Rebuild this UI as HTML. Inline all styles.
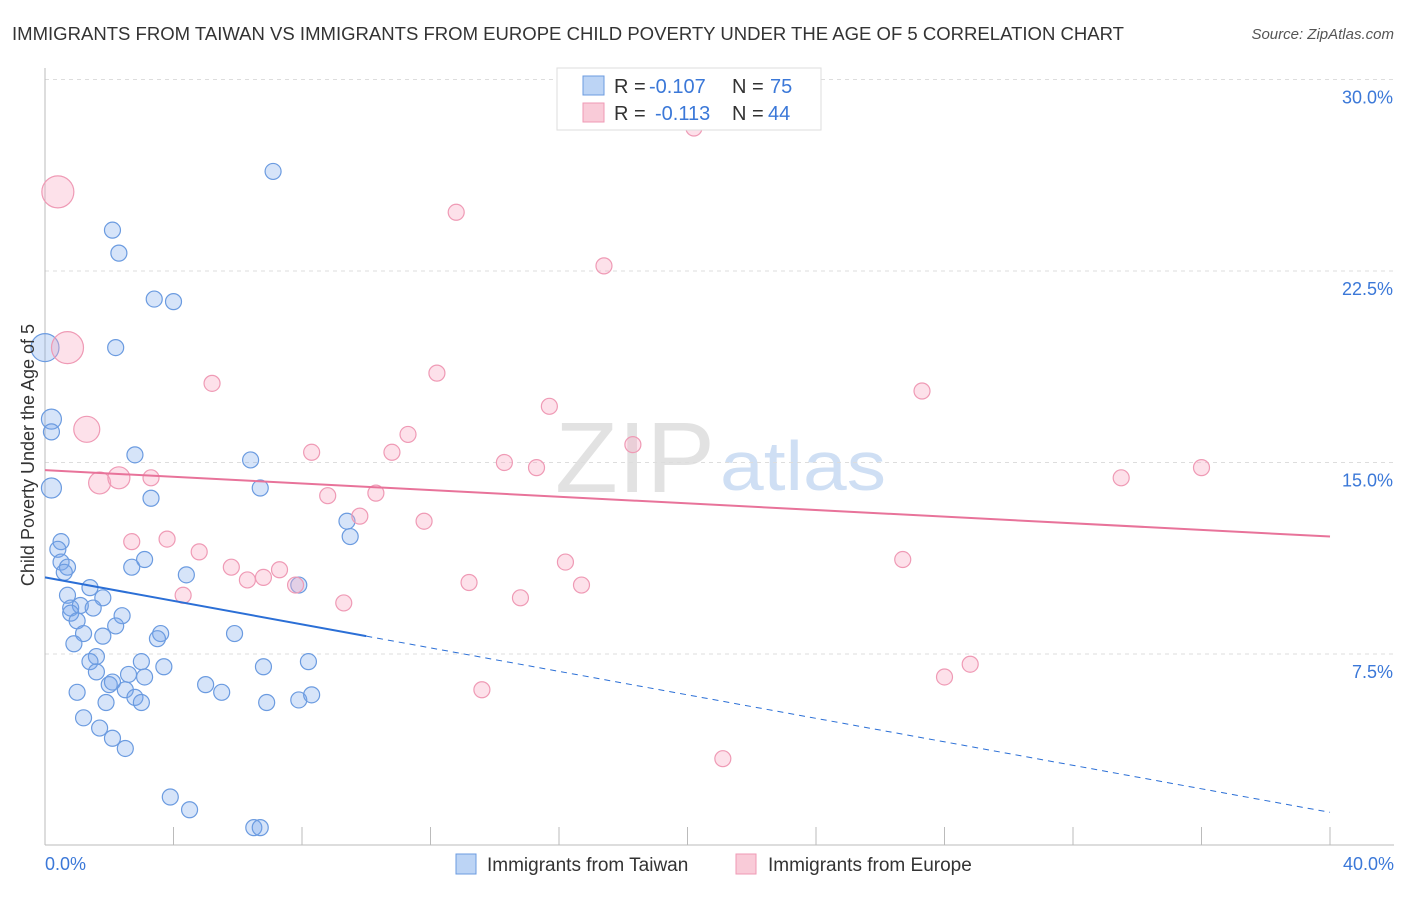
<!DOCTYPE html>
<html><head><meta charset="utf-8"><style>
body{margin:0;background:#fff;font-family:"Liberation Sans",sans-serif;}
svg text{font-family:"Liberation Sans",sans-serif;}
</style></head><body>
<svg id="chart" width="1406" height="892" viewBox="0 0 1406 892">
<text x="12" y="40" font-size="18" fill="#333" textLength="1112" lengthAdjust="spacingAndGlyphs">IMMIGRANTS FROM TAIWAN VS IMMIGRANTS FROM EUROPE CHILD POVERTY UNDER THE AGE OF 5 CORRELATION CHART</text>
<text x="1394" y="39" font-size="15" fill="#555" font-style="italic" text-anchor="end">Source: ZipAtlas.com</text>
<text x="555" y="492" font-size="100" fill="#e2e2e2" font-family="Liberation Serif" textLength="160" lengthAdjust="spacingAndGlyphs">ZIP</text>
<text x="720" y="490" font-size="70" fill="#cfdff4" textLength="166" lengthAdjust="spacingAndGlyphs">atlas</text>
<g id="grid"></g><g id="axes"></g><g id="pts"></g><g id="trend"></g>
<text transform="translate(34,455) rotate(-90)" font-size="18" fill="#333" text-anchor="middle">Child Poverty Under the Age of 5</text>
<text x="45" y="870" font-size="18" fill="#3b78d8">0.0%</text>
<text x="1394" y="870" font-size="18" fill="#3b78d8" text-anchor="end">40.0%</text>
<g>
<rect x="557" y="68" width="264" height="62" fill="#fff" stroke="#ddd"/>
<rect x="583" y="76" width="21" height="19" fill="#bcd4f5" stroke="#6b9be0"/>
<rect x="583" y="103" width="21" height="19" fill="#f9cbd8" stroke="#ef9ab5"/>
<text x="614" y="93" font-size="20" fill="#333">R =</text>
<text x="649" y="93" font-size="20" fill="#3b78d8">-0.107</text>
<text x="732" y="93" font-size="20" fill="#333">N =</text>
<text x="770" y="93" font-size="20" fill="#3b78d8">75</text>
<text x="614" y="120" font-size="20" fill="#333">R =</text>
<text x="655" y="120" font-size="20" fill="#3b78d8">-0.113</text>
<text x="732" y="120" font-size="20" fill="#333">N =</text>
<text x="768" y="120" font-size="20" fill="#3b78d8">44</text>
</g>
<g>
<rect x="456" y="854" width="20" height="20" fill="#bcd4f5" stroke="#6b9be0"/>
<text x="487" y="871" font-size="19" fill="#333">Immigrants from Taiwan</text>
<rect x="736" y="854" width="20" height="20" fill="#f9cbd8" stroke="#ef9ab5"/>
<text x="768" y="871" font-size="19" fill="#333">Immigrants from Europe</text>
</g>
</svg>
<script>
const yTicks=[7.5,15,22.5,30];
const yTickLabels=["7.5%","15.0%","22.5%","30.0%"];
const xTicks=[0,4,8,12,16,20,24,28,32,36,40];
const taiwanX=[7.1,2.1,2.3,3.4,4.0,2.2,0,0.2,0.2,0.2,2.8,6.4,6.7,3.3,9.4,9.5,0.5,0.4,0.5,0.7,0.6,2.7,3.1,1.4,4.4,0.7,1.8,0.8,1.1,1.5,0.8,1.0,2.4,2.2,1.2,1.8,3.6,3.5,5.9,7.9,0.9,1.6,1.4,3.0,1.6,2.6,3.7,3.1,6.8,8.2,1.0,2.0,2.1,2.5,5.0,5.5,2.8,1.9,3.0,6.9,7.9,8.3,1.2,1.7,2.1,2.5,3.9,4.5,6.5,6.7];
const taiwanY=[26.4,24.1,23.2,21.4,21.3,19.5,19.5,16.7,16.2,14.0,15.3,15.1,14.0,13.6,12.7,12.1,11.9,11.6,11.1,10.9,10.7,10.9,11.2,10.1,10.6,9.8,9.7,9.3,9.4,9.3,9.1,8.8,9.0,8.6,8.3,8.2,8.3,8.1,8.3,10.2,7.9,7.4,7.2,7.2,6.8,6.7,7.0,6.6,7.0,7.2,6.0,6.3,6.4,6.1,6.3,6.0,5.8,5.6,5.6,5.6,5.7,5.9,5.0,4.6,4.2,3.8,1.9,1.4,0.7,0.7];
const taiwanR=[8,8,8,8,8,8,14,10,8,10,8,8,8,8,8,8,8,8,8,8,8,8,8,8,8,8,8,8,8,8,8,8,8,8,8,8,8,8,8,8,8,8,8,8,8,8,8,8,8,8,8,8,8,8,8,8,8,8,8,8,8,8,8,8,8,8,8,8,8,8];
const europeX=[0.4,0.7,1.3,20.2,12.8,17.4,5.2,12.2,27.3,15.7,11.3,18.3,8.3,10.8,14.3,15.3,33.5,36.0,1.7,2.3,3.3,8.8,10.3,9.8,11.8,2.7,3.8,4.8,5.8,7.3,6.8,6.3,7.8,4.3,13.2,16.2,16.7,26.7,14.8,9.3,13.6,28.0,28.8,21.1];
const europeY=[25.6,19.5,16.3,28.1,24.8,22.7,18.1,18.5,17.8,17.2,16.1,15.7,15.4,15.4,15.0,14.8,14.4,14.8,14.2,14.4,14.4,13.7,13.8,12.9,12.7,11.9,12.0,11.5,10.9,10.8,10.5,10.4,10.2,9.8,10.3,11.1,10.2,11.2,9.7,9.5,6.1,6.6,7.1,3.4];
const europeR=[16,16,13,8,8,8,8,8,8,8,8,8,8,8,8,8,8,8,11,11,8,8,8,8,8,8,8,8,8,8,8,8,8,8,8,8,8,8,8,8,8,8,8,8];
const trendTaiwan=[10.5,1.3];
const trendEurope=[14.7,12.1];
const NS="http://www.w3.org/2000/svg";
const X0=45,X1=1330,YB=845.5,YPX=191.5/7.5;
const xs=v=>X0+(v/40)*(X1-X0);
const ys=v=>YB-v*YPX;
function mk(tag,attrs,parent){const e=document.createElementNS(NS,tag);for(const k in attrs)e.setAttribute(k,attrs[k]);parent.appendChild(e);return e;}
const grid=document.getElementById('grid'),axes=document.getElementById('axes');
yTicks.forEach((t,i)=>{
 const l=mk('line',{x1:X0,x2:1394,y1:ys(t),y2:ys(t),stroke:'#ddd','stroke-dasharray':'4 4'},grid);
 
 
 const tx=mk('text',{x:1393,y:ys(t)+24,'font-size':18,fill:'#3b78d8','text-anchor':'end'},grid);
 tx.textContent=yTickLabels[i];
 
 
});
const xa=mk('line',{x1:X0,x2:1394,y1:845,y2:845,stroke:'#bbb'},axes);


const ya=mk('line',{x1:X0,x2:X0,y1:68,y2:845,stroke:'#bbb'},axes);


xTicks.forEach(t=>{
 const l=mk('line',{x1:xs(t),x2:xs(t),y1:827,y2:845,stroke:'#bbb'},axes);
 
 
});
const pts=document.getElementById('pts');
taiwanX.forEach((v,i)=>{
 const c=mk('circle',{cx:xs(v),cy:ys(taiwanY[i]),r:taiwanR[i],fill:'rgba(120,165,235,0.3)',stroke:'#6b9be0','stroke-width':1.2},pts);
 
 
});
europeX.forEach((v,i)=>{
 const c=mk('circle',{cx:xs(v),cy:ys(europeY[i]),r:europeR[i],fill:'rgba(248,170,195,0.35)',stroke:'#ef9ab5','stroke-width':1.2},pts);
 
 
});
const tr=document.getElementById('trend');
const tAt=x=>trendTaiwan[0]+(trendTaiwan[1]-trendTaiwan[0])*x/40;
const t1=mk('line',{x1:xs(0),y1:ys(tAt(0)),x2:xs(10),y2:ys(tAt(10)),stroke:'#2b6fd6','stroke-width':2},tr);


const t2=mk('line',{x1:xs(10),y1:ys(tAt(10)),x2:xs(40),y2:ys(tAt(40)),stroke:'#2b6fd6','stroke-width':1,'stroke-dasharray':'6 5'},tr);


const t3=mk('line',{x1:xs(0),y1:ys(trendEurope[0]),x2:xs(40),y2:ys(trendEurope[1]),stroke:'#e8739a','stroke-width':2},tr);


</script>
</body></html>
